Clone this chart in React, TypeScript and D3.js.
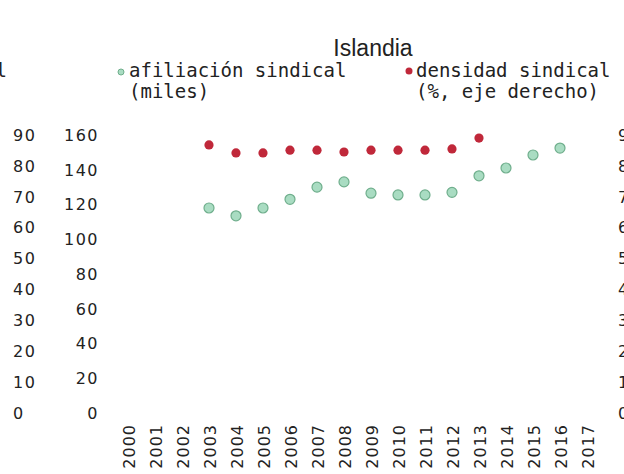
import React from "react";
import * as d3 from "d3";

const years = ["2000","2001","2002","2003","2004","2005","2006","2007","2008","2009","2010","2011","2012","2013","2014","2015","2016","2017"];
const memberYears = ["2003","2004","2005","2006","2007","2008","2009","2010","2011","2012","2013","2014","2015","2016"];
const memberValues = [118, 113.5, 118, 123, 130, 133, 126.5, 125.5, 125.5, 127, 136.5, 141, 148.5, 152.5];
const densityYears = ["2003","2004","2005","2006","2007","2008","2009","2010","2011","2012","2013"];
const densityValues = [86.8, 84.2, 84.2, 85.1, 85.1, 84.5, 85.1, 85.1, 85.1, 85.5, 89.0];
const leftTicks = [0, 20, 40, 60, 80, 100, 120, 140, 160];
const rightTicks = [0, 10, 20, 30, 40, 50, 60, 70, 80, 90];

const title = "Islandia";
const legend1 = ["afiliación sindical", "(miles)"];
const legend2 = ["densidad sindical", "(%, eje derecho)"];

export default function App() {
  const W = 624, H = 474;
  const x = d3.scalePoint<string>().domain(years).range([128, 587]);
  const yL = d3.scaleLinear().domain([0, 160]).range([413, 135]);
  const yR = d3.scaleLinear().domain([0, 90]).range([413, 135]);
  const tickFont = "'DejaVu Sans', Verdana, sans-serif";
  const mono = "'DejaVu Sans Mono', 'Liberation Mono', monospace";
  const green = "#a9dcc2";
  const greenStroke = "#6fae8c";
  const red = "#c0283a";

  return (
    <svg width={W} height={H} style={{ position: "absolute", left: 0, top: 0, background: "#fff" }}>
      <rect x={0} y={0} width={W} height={H} fill="#fff" />
      <text x={373} y={56} textAnchor="middle" fontFamily="'Liberation Sans', Arial, sans-serif" fontSize={23} fill="#222">{title}</text>

      {/* previous panel's legend tail */}
      <text x={7} y={77} textAnchor="end" fontFamily={mono} fontSize={19} fill="#222">densidad sindical</text>

      {/* legend */}
      <circle cx={121} cy={72} r={3} fill={green} stroke={greenStroke} strokeWidth={1} />
      {legend1.map((t, i) => (
        <text key={"l1" + i} x={129} y={77 + i * 21} fontFamily={mono} fontSize={19} fill="#222">{t}</text>
      ))}
      <circle cx={409} cy={71} r={3.5} fill={red} />
      {legend2.map((t, i) => (
        <text key={"l2" + i} x={416} y={77 + i * 21} fontFamily={mono} fontSize={19} fill="#222">{t}</text>
      ))}

      {/* outer left (previous panel's right axis) */}
      {rightTicks.map((v) => (
        <text key={"ol" + v} x={13} y={yR(v)} dy="0.36em" fontFamily={tickFont} fontSize={16} letterSpacing={1.5} fill="#222">{v}</text>
      ))}
      {/* left axis */}
      {leftTicks.map((v) => (
        <text key={"l" + v} x={99} y={yL(v)} dy="0.36em" textAnchor="end" fontFamily={tickFont} fontSize={16} letterSpacing={1.5} fill="#222">{v}</text>
      ))}
      {/* right axis */}
      {rightTicks.map((v) => (
        <text key={"r" + v} x={618} y={yR(v)} dy="0.36em" fontFamily={tickFont} fontSize={16} letterSpacing={1.5} fill="#222">{v}</text>
      ))}
      {/* x labels */}
      {years.map((yr) => (
        <text key={"x" + yr} transform={`translate(${(x(yr) as number) + 1},424) rotate(-90)`} dy="0.36em" textAnchor="end" fontFamily={tickFont} fontSize={16} letterSpacing={1} fill="#222">{yr}</text>
      ))}

      {/* series */}
      {densityYears.map((yr, i) => (
        <circle key={"d" + yr} cx={x(yr)} cy={yR(densityValues[i])} r={4.6} fill={red} />
      ))}
      {memberYears.map((yr, i) => (
        <circle key={"m" + yr} cx={x(yr)} cy={yL(memberValues[i])} r={5} fill={green} stroke={greenStroke} strokeWidth={1.2} />
      ))}
    </svg>
  );
}
